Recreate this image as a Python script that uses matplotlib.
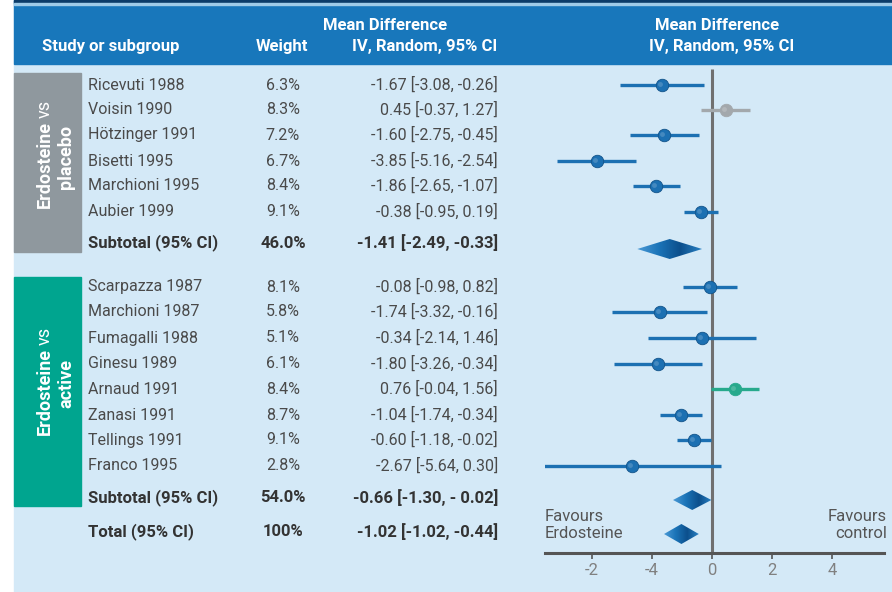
import numpy as np
import matplotlib.pyplot as plt
from matplotlib.patches import Rectangle, Polygon
from matplotlib.colors import LinearSegmentedColormap

plt.rcParams["font.family"] = ["Roboto", "DejaVu Sans"]

# study rows
studies_placebo = ["Ricevuti 1988", "Voisin 1990", "Hötzinger 1991", "Bisetti 1995",
                   "Marchioni 1995", "Aubier 1999"]
weights_placebo = ["6.3%", "8.3%", "7.2%", "6.7%", "8.4%", "9.1%"]
md_placebo = [-1.67, 0.45, -1.60, -3.85, -1.86, -0.38]
lo_placebo = [-3.08, -0.37, -2.75, -5.16, -2.65, -0.95]
hi_placebo = [-0.26, 1.27, -0.45, -2.54, -1.07, 0.19]

studies_active = ["Scarpazza 1987", "Marchioni 1987", "Fumagalli 1988", "Ginesu 1989",
                  "Arnaud 1991", "Zanasi 1991", "Tellings 1991", "Franco 1995"]
weights_active = ["8.1%", "5.8%", "5.1%", "6.1%", "8.4%", "8.7%", "9.1%", "2.8%"]
md_active = [-0.08, -1.74, -0.34, -1.80, 0.76, -1.04, -0.60, -2.67]
lo_active = [-0.98, -3.32, -2.14, -3.26, -0.04, -1.74, -1.18, -5.64]
hi_active = [0.82, -0.16, 1.46, -0.34, 1.56, -0.34, -0.02, 0.30]

# pooled rows: subtotal placebo, subtotal active, total
pooled_labels = ["Subtotal (95% CI)", "Subtotal (95% CI)", "Total (95% CI)"]
pooled_weights = ["46.0%", "54.0%", "100%"]
pooled_md = [-1.41, -0.66, -1.02]
pooled_lo = [-2.49, -1.30, -1.02]
pooled_hi = [-0.33, -0.02, -0.44]
pooled_ci_text = ["-1.41 [-2.49, -0.33]", "-0.66 [-1.30, - 0.02]", "-1.02 [-1.02, -0.44]"]

tick_vals = [-4, -2, 0, 2, 4]
tick_labels = ["-2", "-4", "0", "2", "4"]

# layout (pixel rows)
y_placebo = [85, 110, 135, 161, 186, 212]
y_active = [287, 312, 338, 364, 389, 415, 440, 466]
y_pooled_text = [243, 498, 532]
y_pooled_mark = [249, 500, 534]

HEADER = "#1877bb"
BG = "#d4e9f7"
TXT = "#4a4a4a"
TXT_B = "#333333"
BLUE = "#1c70b2"
GREY_PT = "#a3a8ac"
TEAL_PT = "#27a98c"
FS = 11.5
FS_B = 12

fig = plt.figure(figsize=(8.92, 5.92), dpi=100)
base = fig.add_axes([0, 0, 1, 1])
base.set_xlim(0, 892)
base.set_ylim(592, 0)
base.axis("off")

# backgrounds and header band
base.add_patch(Rectangle((14, 0), 878, 592, color=BG, zorder=0))
base.add_patch(Rectangle((14, 0), 878, 64, color=HEADER, zorder=1))
base.add_patch(Rectangle((14, 0), 878, 3.2, color="#0c3c69", zorder=2))
base.add_patch(Rectangle((14, 3.2), 878, 1.8, color="#9fcbe8", zorder=2))

hdr = dict(color="white", fontsize=FS_B, fontweight="bold", zorder=3)
base.text(42, 47, "Study or subgroup", ha="left", va="center", **hdr)
base.text(282, 47, "Weight", ha="center", va="center", **hdr)
base.text(385, 25, "Mean Difference", ha="center", va="center", **hdr)
base.text(497, 47, "IV, Random, 95% CI", ha="right", va="center", **hdr)
base.text(717, 25, "Mean Difference", ha="center", va="center", **hdr)
base.text(722, 47, "IV, Random, 95% CI", ha="center", va="center", **hdr)

# group boxes with rotated labels
base.add_patch(Rectangle((14, 73), 67, 179, color="#8f989e", zorder=1))
base.add_patch(Rectangle((14, 277), 67, 229, color="#00a58f", zorder=1))
for split in [120, 347]:
    base.text(45, split + 1, "Erdosteine", rotation=90, ha="center", va="top",
              color="white", fontsize=13, fontweight="bold", zorder=3)
    base.text(45, split - 2, "vs", rotation=90, ha="center", va="bottom",
              color="white", fontsize=13, zorder=3)
for second, yc in [("placebo", 157), ("active", 384)]:
    base.text(66, yc, second, rotation=90, ha="center", va="center",
              color="white", fontsize=13, fontweight="bold", zorder=3)

# table text
rows = list(zip(studies_placebo + studies_active, weights_placebo + weights_active,
                md_placebo + md_active, lo_placebo + lo_active, hi_placebo + hi_active,
                y_placebo + y_active))
for name, w, m, lo, hi, y in rows:
    base.text(88, y, name, ha="left", va="center", color=TXT, fontsize=FS)
    base.text(283, y, w, ha="center", va="center", color=TXT, fontsize=FS)
    base.text(498, y, f"{m:.2f} [{lo:.2f}, {hi:.2f}]", ha="right", va="center",
              color=TXT, fontsize=FS)
for lab, w, ci, y in zip(pooled_labels, pooled_weights, pooled_ci_text, y_pooled_text):
    base.text(88, y, lab, ha="left", va="center", color=TXT_B, fontsize=FS_B, fontweight="bold")
    base.text(283, y, w, ha="center", va="center", color=TXT_B, fontsize=FS_B, fontweight="bold")
    base.text(498, y, ci, ha="right", va="center", color=TXT_B, fontsize=FS_B, fontweight="bold")

# forest plot axes: x in mean-difference units, y in pixel rows
ax = fig.add_axes([545 / 892, 0, 339 / 892, 1])
ax.set_xlim(-5.567, 5.733)
ax.set_ylim(592, 0)
ax.patch.set_visible(False)
for side in ["top", "left", "right"]:
    ax.spines[side].set_visible(False)
ax.spines["bottom"].set_position(("data", 553))
ax.spines["bottom"].set_color("#555555")
ax.spines["bottom"].set_linewidth(2.2)
ax.set_yticks([])
ax.set_xticks(tick_vals)
ax.set_xticklabels(tick_labels)
ax.tick_params(axis="x", direction="out", length=4, width=1.2, color="#555555",
               labelcolor="#808080", labelsize=12, pad=3)

ax.vlines(0, 69, 553, color="#707070", lw=2.2, zorder=2)

point_colors = [BLUE] * len(rows)
point_colors[1] = GREY_PT
point_colors[len(studies_placebo) + 4] = TEAL_PT
for (name, w, m, lo, hi, y), c in zip(rows, point_colors):
    ax.plot([lo, hi], [y, y], color=c, lw=2.4, solid_capstyle="butt", zorder=3)
    ax.plot(m, y, "o", ms=9, color=c, mec="#125389" if c == BLUE else c, mew=0.6,
            zorder=4)
    ax.plot(m - 0.06, y - 1.5, "o", ms=3.5, color="white", alpha=0.18, mew=0, zorder=5)

# pooled diamonds with a left-to-right shading
shade = LinearSegmentedColormap.from_list("shade", ["#4b9ad6", "#1b74b8", "#0c4f8c", "#2a82c4"])
grad = np.linspace(0, 1, 256).reshape(1, -1)
for m, hi, y in zip(pooled_md, pooled_hi, y_pooled_mark):
    half = hi - m
    pts = [(m - half, y), (m, y - 10), (m + half, y), (m, y + 10)]
    poly = Polygon(pts, closed=True, facecolor="none", edgecolor="none")
    ax.add_patch(poly)
    im = ax.imshow(grad, cmap=shade, aspect="auto", extent=(m - half, m + half, y + 10, y - 10),
                   zorder=4)
    im.set_clip_path(poly)
ax.set_xlim(-5.567, 5.733)
ax.set_ylim(592, 0)

ax.text(-5.567, 525, "Favours\nErdosteine", ha="left", va="center", color="#555555",
        fontsize=12, linespacing=1.2)
ax.text(5.83, 525, "Favours\ncontrol", ha="right", va="center", color="#555555",
        fontsize=12, linespacing=1.2, clip_on=False)

fig.savefig("out.png", dpi=100)
